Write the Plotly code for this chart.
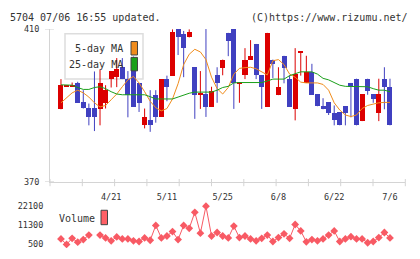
import plotly.graph_objects as go

W, H = 420, 259

# ---------------- data ----------------
tick_idx = [9, 19, 29, 39, 49, 59]
tick_text = ['4/21', '5/11', '5/25', '6/8', '6/22', '7/6']

opens = [389.0, 395.0, 395.0, 395.9, 390.9, 389.2, 389.2, 389.0, 390.7, 396.9,
         397.4, 400.0, 396.9, 402.4, 395.9, 385.0, 386.1, 392.8, 387.0, 396.9,
         397.8, 409.9, 408.7, 407.8, 400.0, 392.8, 392.9, 389.7, 398.0, 399.8,
         409.0, 410.0, 395.8, 397.9, 401.9, 406.1, 397.9, 389.7, 402.0, 392.7,
         403.0, 397.0, 389.1, 403.9, 395.9, 398.8, 392.9, 389.8, 390.9, 388.0,
         388.2, 389.8, 395.9, 397.0, 385.9, 397.0, 392.9, 388.0, 397.0, 394.8]
highs = [396.9, 395.0, 396.0, 396.2, 394.0, 390.5, 398.9, 399.4, 395.3, 398.9,
         402.4, 402.4, 399.0, 402.8, 395.9, 389.2, 394.0, 394.0, 396.9, 397.8,
         409.9, 409.9, 409.5, 409.9, 400.0, 399.0, 410.0, 394.9, 400.0, 402.0,
         409.0, 410.0, 395.8, 405.0, 407.1, 406.1, 397.9, 409.0, 402.0, 400.0,
         403.0, 397.9, 405.0, 403.9, 403.0, 400.9, 392.9, 391.9, 390.9, 390.0,
         388.2, 389.8, 395.9, 397.0, 392.9, 397.0, 392.9, 397.0, 400.0, 397.0]
lows = [389.0, 395.0, 395.0, 390.7, 389.2, 384.8, 383.3, 384.8, 389.2, 394.7,
        394.8, 396.9, 386.9, 389.7, 388.3, 384.0, 383.1, 385.5, 387.0, 391.1,
        397.8, 403.2, 397.4, 407.8, 386.5, 389.1, 387.0, 389.7, 390.7, 397.9,
        402.9, 389.1, 390.7, 396.9, 401.9, 396.9, 389.1, 389.7, 397.2, 392.7,
        395.8, 389.7, 386.1, 397.8, 395.9, 392.8, 389.8, 389.0, 387.5, 384.8,
        384.8, 384.8, 386.9, 384.8, 385.9, 392.8, 390.7, 385.9, 389.0, 384.8]
closes = [395.4, 395.0, 395.0, 390.7, 389.2, 387.0, 387.0, 395.9, 394.0, 398.9,
          399.5, 396.9, 392.8, 389.7, 390.7, 387.1, 385.0, 387.0, 396.9, 394.7,
          409.1, 407.8, 404.9, 409.1, 392.8, 393.0, 389.7, 393.9, 395.8, 402.0,
          406.9, 395.8, 395.8, 402.0, 403.0, 397.9, 394.8, 409.0, 400.8, 394.9,
          399.8, 389.7, 398.1, 403.9, 398.8, 392.8, 389.8, 389.0, 388.0, 386.1,
          384.8, 388.0, 394.8, 384.8, 392.9, 393.8, 391.7, 392.9, 394.8, 384.8]

ma5 = [390.7, 391.9, 393.3, 394.0, 393.3, 392.2, 390.7, 389.6, 390.0, 391.5,
       393.0, 394.9, 396.7, 397.6, 395.9, 393.6, 391.1, 389.4, 388.6, 389.2,
       391.7, 395.7, 400.7, 403.4, 404.7, 404.0, 402.0, 397.4, 394.4, 393.0,
       394.7, 398.2, 399.7, 399.9, 400.0, 399.6, 398.9, 398.0, 401.7, 402.0,
       400.7, 398.2, 397.4, 396.1, 395.9, 395.9, 395.9, 395.5, 394.0, 390.7,
       388.8, 387.5, 387.1, 387.5, 389.2, 390.0, 390.4, 390.7, 390.8, 390.8]
ma25 = [395.4, 395.3, 395.3, 394.7, 394.2, 394.2, 394.7, 394.9, 394.4, 393.6,
        393.0, 392.8, 392.8, 392.8, 392.8, 392.8, 392.3, 391.7, 391.7, 391.7,
        391.7, 392.2, 392.8, 393.2, 393.5, 393.5, 393.5, 393.5, 394.0, 394.7,
        395.0, 395.9, 396.0, 396.0, 396.0, 396.0, 396.0, 396.4, 396.9, 396.9,
        396.9, 397.8, 398.4, 398.8, 398.8, 398.8, 398.2, 397.1, 396.7, 395.9,
        395.3, 395.0, 395.0, 395.0, 394.9, 394.9, 394.4, 394.0, 394.0, 393.6]

volume = [3580, 500, 3900, 1750, 3200, 5740, None, 5740, 4120, 2500,
          4660, 3580, 3580, 2500, 2120, 4120, 2820, 11140, 4120, 5200,
          7700, 3200, 11140, 9500, 18500, 6800, 21940, 5200, 7160, 5200,
          4120, 10760, 4300, 5200, 3580, 2500, 3900, 5740, 2120, 4300,
          6440, 3900, 11680, 8060, 1930, 3200, 2500, 3580, 5740, 8060,
          2120, 3580, 4820, 3580, 3580, 1420, 2120, 4300, 7160, 4120]

vol_ticks = [500, 11300, 22100]
vol_tick_text = ['500', '11300', '22100']
price_ticks = [370, 410]
price_tick_text = ['370', '410']

# ---------------- styles ----------------
RED = '#dc0000'
BLUE = '#4040c0'
ORANGE = '#f08c1c'
GREEN = '#1aa01a'
VOLC = '#f85a64'
FONT = 'DejaVu Sans Mono'
TXT = '#333333'
AXC = '#d4d4d4'

idx = list(range(len(opens)))
up = [c >= o for o, c in zip(opens, closes)]

fig = go.Figure()

# wicks
for flag, col in ((True, RED), (False, BLUE)):
    xs, ys = [], []
    for i in idx:
        if up[i] == flag:
            xs += [i, i, None]
            ys += [lows[i], highs[i], None]
    fig.add_trace(go.Scatter(x=xs, y=ys, mode='lines', line=dict(color=col, width=1),
                             hoverinfo='skip', showlegend=False, xaxis='x', yaxis='y'))

# bodies
fig.add_trace(go.Bar(
    x=idx,
    base=[min(o, c) for o, c in zip(opens, closes)],
    y=[max(abs(c - o), 0.2) for o, c in zip(opens, closes)],
    width=0.9,
    marker=dict(color=[RED if u else BLUE for u in up], line=dict(width=0)),
    showlegend=False, xaxis='x', yaxis='y'))

# moving averages
fig.add_trace(go.Scatter(x=idx, y=ma5, mode='lines', line=dict(color=ORANGE, width=1),
                         showlegend=False, xaxis='x', yaxis='y'))
fig.add_trace(go.Scatter(x=idx, y=ma25, mode='lines', line=dict(color=GREEN, width=1),
                         showlegend=False, xaxis='x', yaxis='y'))

# volume
fig.add_trace(go.Scatter(x=idx, y=volume, mode='lines+markers', connectgaps=False,
                         line=dict(color=VOLC, width=1),
                         marker=dict(symbol='diamond', size=6, color=VOLC),
                         showlegend=False, xaxis='x2', yaxis='y2'))

xdom = [50 / W, 405.3 / W]
xrange_ = [-1.97, 61.75]

def py(p):
    return 1 - p / H

fig.update_layout(
    width=W, height=H,
    margin=dict(l=0, r=0, t=0, b=0),
    paper_bgcolor='white', plot_bgcolor='rgba(0,0,0,0)',
    showlegend=False,
    bargap=0,
    xaxis=dict(domain=xdom, range=xrange_, anchor='y', showgrid=False, zeroline=False,
               showline=True, linecolor=AXC, linewidth=1,
               tickvals=tick_idx, ticktext=tick_text, ticks='outside', ticklen=7,
               tickcolor='rgba(0,0,0,0)',
               tickfont=dict(family=FONT, size=8.5, color=TXT)),
    yaxis=dict(domain=[py(184), py(25)], range=[370, 410], anchor='x', showgrid=False,
               zeroline=False, showline=True, linecolor=AXC, linewidth=1,
               tickvals=price_ticks, ticktext=price_tick_text, ticks='outside', ticklen=8,
               tickcolor='rgba(0,0,0,0)',
               tickfont=dict(family=FONT, size=8.5, color=TXT)),
    xaxis2=dict(domain=xdom, range=xrange_, anchor='y2', visible=False),
    yaxis2=dict(domain=[py(253), py(205)], range=[500 - 4 * 540, 22100 + 4 * 540],
                anchor='x2', showgrid=False, zeroline=False, showline=False,
                tickvals=vol_ticks, ticktext=vol_tick_text, ticks='outside', ticklen=4,
                tickcolor='rgba(0,0,0,0)',
                tickfont=dict(family=FONT, size=8.5, color=TXT)),
)

shapes = []
# crossing y ticks
for p in price_ticks:
    shapes.append(dict(type='line', xref='paper', yref='y', x0=45 / W, x1=54 / W, y0=p, y1=p,
                       line=dict(color=AXC, width=1)))
# crossing x ticks
for k in range(12):
    shapes.append(dict(type='line', xref='x domain', yref='paper', x0=k / 11, x1=k / 11,
                       y0=py(181), y1=py(188.5), line=dict(color=AXC, width=1)))
# legend box
shapes.append(dict(type='rect', xref='paper', yref='paper', x0=65 / W, x1=143 / W,
                   y0=py(77), y1=py(30), line=dict(color='#dddddd', width=1.5),
                   fillcolor='white', layer='below'))
# swatches
shapes.append(dict(type='rect', xref='paper', yref='paper', x0=131 / W, x1=137.5 / W,
                   y0=py(52), y1=py(38), line=dict(color='#444444', width=1), fillcolor=ORANGE))
shapes.append(dict(type='rect', xref='paper', yref='paper', x0=131 / W, x1=137.5 / W,
                   y0=py(68.5), y1=py(54.5), line=dict(color='#444444', width=1), fillcolor=GREEN))
shapes.append(dict(type='rect', xref='paper', yref='paper', x0=101 / W, x1=107.5 / W,
                   y0=py(228.5), y1=py(213.5), line=dict(color='#444444', width=1), fillcolor='#ff6066'))
fig.update_layout(shapes=shapes)

ann = [
    dict(text='5704 07/06 16:55 updated.', x=8 / W, y=py(12.5), xanchor='left'),
    dict(text='(C)https://www.rizumu.net/', x=410 / W, y=py(12.5), xanchor='right'),
    dict(text='5-day MA', x=125 / W, y=py(45), xanchor='right'),
    dict(text='25-day MA', x=125 / W, y=py(61.5), xanchor='right'),
    dict(text='Volume', x=57 / W, y=py(222), xanchor='left'),
]
for a in ann:
    a.update(xref='paper', yref='paper', yanchor='middle', showarrow=False,
             font=dict(family=FONT, size=10, color=TXT))
fig.update_layout(annotations=ann)

fig.write_html('out.html')
